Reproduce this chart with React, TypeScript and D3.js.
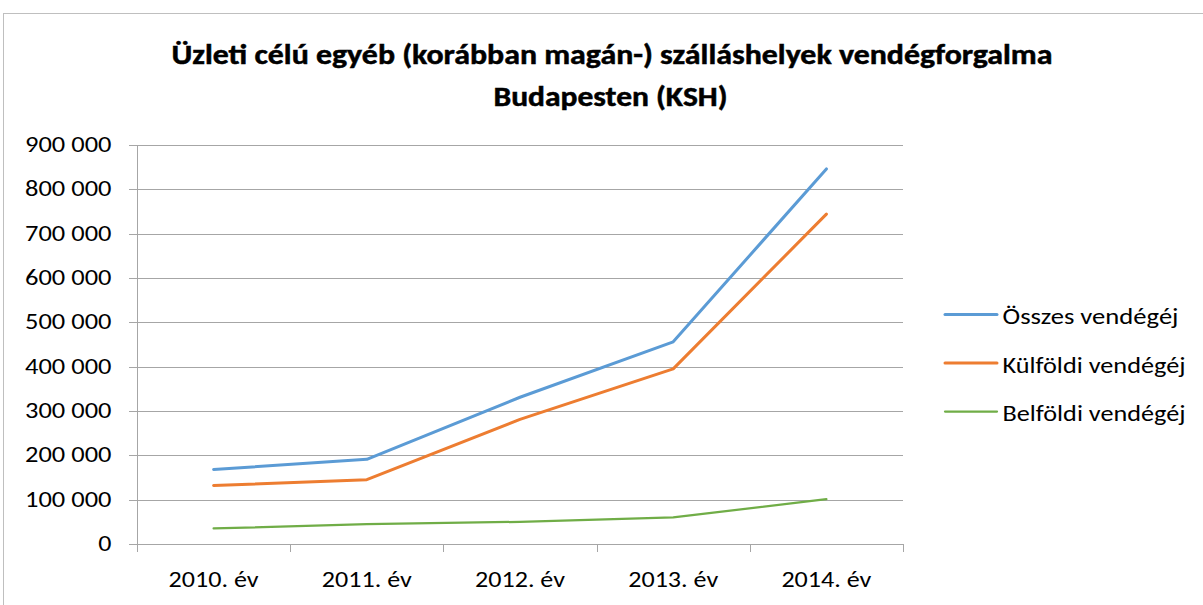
import React from "react";
import * as d3 from "d3";

const categories = ["2010. év", "2011. év", "2012. év", "2013. év", "2014. év"];
const seriesNames = ["Összes vendégéj", "Külföldi vendégéj", "Belföldi vendégéj"];
const osszes = [168000, 191000, 331000, 456000, 846000];
const kulfoldi = [132000, 145000, 281000, 395000, 744000];
const belfoldi = [35000, 45000, 50000, 60000, 101000];
const yTicks = [0, 100000, 200000, 300000, 400000, 500000, 600000, 700000, 800000, 900000];
const titleLines = ["Üzleti célú egyéb (korábban magán-) szálláshelyek vendégforgalma", "Budapesten (KSH)"];

const colors = ["#5B9BD5", "#ED7D31", "#70AD47"];
const widths = [3, 3, 2.25];
const legendLengths = [176, 183, 183];

export default function App() {
  const W = 1203, H = 605;
  const left = 137, right = 903, top = 145, bottom = 544;
  const x = d3.scaleBand<string>().domain(categories).range([left, right]);
  const y = d3.scaleLinear().domain([0, 900000]).range([bottom, top]);
  const fmt = (v: number) => d3.format(",")(v).replace(/,/g, " ");
  const data = [osszes, kulfoldi, belfoldi];
  const line = d3
    .line<number>()
    .x((_, i) => (x(categories[i]) as number) + x.bandwidth() / 2)
    .y((d) => y(d));
  const font = "Carlito, Calibri, 'Open Sans', sans-serif";
  const legendY = [314.5, 363, 411.5];

  return (
    <svg width={W} height={H} style={{ position: "absolute", left: 0, top: 0, background: "#fff" }} fontFamily={font}>
      <rect x={3.5} y={13.5} width={1210} height={600} fill="#fff" stroke="#BFBFBF" strokeWidth={1} />
      {titleLines.map((t, i) => (
        <text
          key={i}
          x={i === 0 ? 612 : 610.5}
          y={i === 0 ? 63.5 : 106}
          textAnchor="middle"
          fontSize={29}
          fontWeight="bold"
          fill="#000"
          stroke="#000"
          strokeWidth={0.5}
          textLength={i === 0 ? 881 : 234}
          lengthAdjust="spacingAndGlyphs"
        >
          {t}
        </text>
      ))}
      {yTicks.map((v) => (
        <g key={v}>
          <line x1={left - 8} x2={right} y1={Math.round(y(v)) + 0.5} y2={Math.round(y(v)) + 0.5} stroke="#A6A6A6" strokeWidth={1} />
          {v === 0 ? (
            <text transform={`translate(111.5,${y(v) + 7}) scale(1.18,1)`} textAnchor="end" fontSize={22} fill="#000">
              {fmt(v)}
            </text>
          ) : (
            <text x={25} y={y(v) + 7} fontSize={22} fill="#000" textLength={86.5} lengthAdjust="spacingAndGlyphs">
              {fmt(v)}
            </text>
          )}
        </g>
      ))}
      <line x1={left + 0.5} x2={left + 0.5} y1={top} y2={bottom + 8} stroke="#A6A6A6" />
      {[...categories.map((c) => x(c) as number), right].map((tx, i) => (
        <line key={i} x1={Math.round(tx) + 0.5} x2={Math.round(tx) + 0.5} y1={bottom} y2={bottom + 8} stroke="#A6A6A6" />
      ))}
      {categories.map((c) => (
        <text
          key={c}
          x={(x(c) as number) + x.bandwidth() / 2 - 45}
          y={587}
          fontSize={23}
          fill="#000"
          textLength={90}
          lengthAdjust="spacingAndGlyphs"
        >
          {c}
        </text>
      ))}
      {data.map((d, i) => (
        <path key={i} d={line(d) as string} fill="none" stroke={colors[i]} strokeWidth={widths[i]} strokeLinejoin="round" strokeLinecap="round" />
      ))}
      {seriesNames.map((n, i) => (
        <g key={n}>
          <line x1={945} x2={997} y1={legendY[i]} y2={legendY[i]} stroke={colors[i]} strokeWidth={widths[i]} strokeLinecap="round" />
          <text
            x={1002.5}
            y={legendY[i] + 9.5}
            fontSize={23}
            fill="#000"
            textLength={legendLengths[i]}
            lengthAdjust="spacingAndGlyphs"
          >
            {n}
          </text>
        </g>
      ))}
    </svg>
  );
}
